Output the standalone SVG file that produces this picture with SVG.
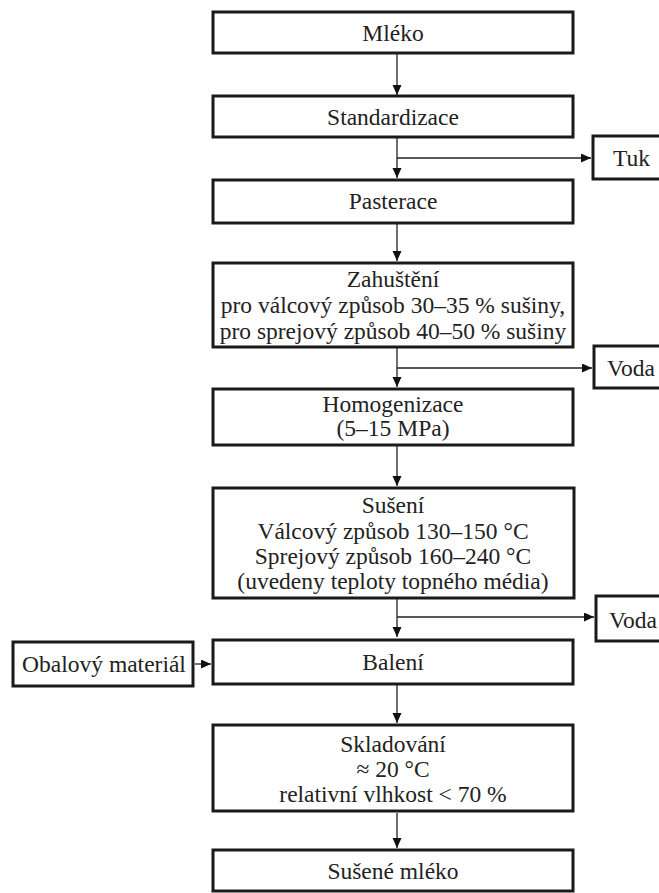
<svg xmlns="http://www.w3.org/2000/svg" width="659" height="893" viewBox="0 0 659 893">
<style>
.box{fill:#fff;stroke:#1a1a1a;stroke-width:3}
.t{font-family:"Liberation Serif","Times New Roman",serif;font-size:23.5px;fill:#222;text-anchor:middle}
.ts{font-family:"Liberation Serif","Times New Roman",serif;font-size:23.5px;fill:#222;text-anchor:start}
.c{stroke:#222;stroke-width:1.3;fill:none}
</style>
<defs>
<marker id="ah" markerUnits="userSpaceOnUse" markerWidth="10" markerHeight="10" refX="10" refY="4.5" orient="auto">
<path d="M0,0 L10,4.5 L0,9 z" fill="#111"/>
</marker>
</defs>
<rect width="659" height="893" fill="#fff"/>
<g id="connectors">
<line class="c" x1="397" y1="54" x2="397" y2="95" marker-end="url(#ah)"/>
<line class="c" x1="397" y1="138" x2="397" y2="178" marker-end="url(#ah)"/>
<line class="c" x1="397" y1="158" x2="591" y2="158" marker-end="url(#ah)"/>
<line class="c" x1="397" y1="224" x2="397" y2="261" marker-end="url(#ah)"/>
<line class="c" x1="397" y1="348" x2="397" y2="387" marker-end="url(#ah)"/>
<line class="c" x1="397" y1="368" x2="592" y2="368" marker-end="url(#ah)"/>
<line class="c" x1="397" y1="446" x2="397" y2="486" marker-end="url(#ah)"/>
<line class="c" x1="397" y1="599" x2="397" y2="637" marker-end="url(#ah)"/>
<line class="c" x1="397" y1="617" x2="594" y2="617" marker-end="url(#ah)"/>
<line class="c" x1="195" y1="664" x2="211" y2="664" marker-end="url(#ah)"/>
<line class="c" x1="397" y1="685" x2="397" y2="723" marker-end="url(#ah)"/>
<line class="c" x1="397" y1="813" x2="397" y2="848" marker-end="url(#ah)"/>
</g>
<g id="mleko"><rect class="box" x="213" y="12" width="360" height="41"/><text class="t" x="393" y="41">Mléko</text></g>
<g id="standardizace"><rect class="box" x="213" y="96" width="360" height="41"/><text class="t" x="393" y="125">Standardizace</text></g>
<g id="tuk"><rect class="box" x="593" y="136" width="80" height="43"/><text class="ts" x="613" y="166">Tuk</text></g>
<g id="pasterace"><rect class="box" x="213" y="180" width="360" height="43"/><text class="t" x="393" y="209">Pasterace</text></g>
<g id="zahusteni"><rect class="box" x="213" y="263" width="360" height="84"/>
<text class="t" x="393" y="287">Zahuštění</text>
<text class="t" x="393" y="313">pro válcový způsob 30–35 % sušiny,</text>
<text class="t" x="393" y="339">pro sprejový způsob 40–50 % sušiny</text></g>
<g id="voda1"><rect class="box" x="594" y="346" width="80" height="42"/><text class="ts" x="607" y="376">Voda</text></g>
<g id="homogenizace"><rect class="box" x="213" y="389" width="360" height="56"/>
<text class="t" x="393" y="412">Homogenizace</text>
<text class="t" x="393" y="436">(5–15 MPa)</text></g>
<g id="suseni"><rect class="box" x="213" y="488" width="361" height="110"/>
<text class="t" x="393" y="513">Sušení</text>
<text class="t" x="393" y="539">Válcový způsob 130–150 °C</text>
<text class="t" x="393" y="564">Sprejový způsob 160–240 °C</text>
<text class="t" x="393" y="589">(uvedeny teploty topného média)</text></g>
<g id="voda2"><rect class="box" x="596" y="596" width="80" height="45"/><text class="ts" x="609" y="628">Voda</text></g>
<g id="obalovy"><rect class="box" x="13" y="642" width="180" height="44"/><text class="t" x="104" y="672">Obalový materiál</text></g>
<g id="baleni"><rect class="box" x="213" y="640" width="360" height="44"/><text class="t" x="393" y="670">Balení</text></g>
<g id="skladovani"><rect class="box" x="213" y="725" width="360" height="86"/>
<text class="t" x="393" y="752">Skladování</text>
<text class="t" x="393" y="777">≈ 20 °C</text>
<text class="t" x="393" y="802">relativní vlhkost &lt; 70 %</text></g>
<g id="susene"><rect class="box" x="213" y="850" width="360" height="41"/><text class="t" x="393" y="879">Sušené mléko</text></g>
</svg>
